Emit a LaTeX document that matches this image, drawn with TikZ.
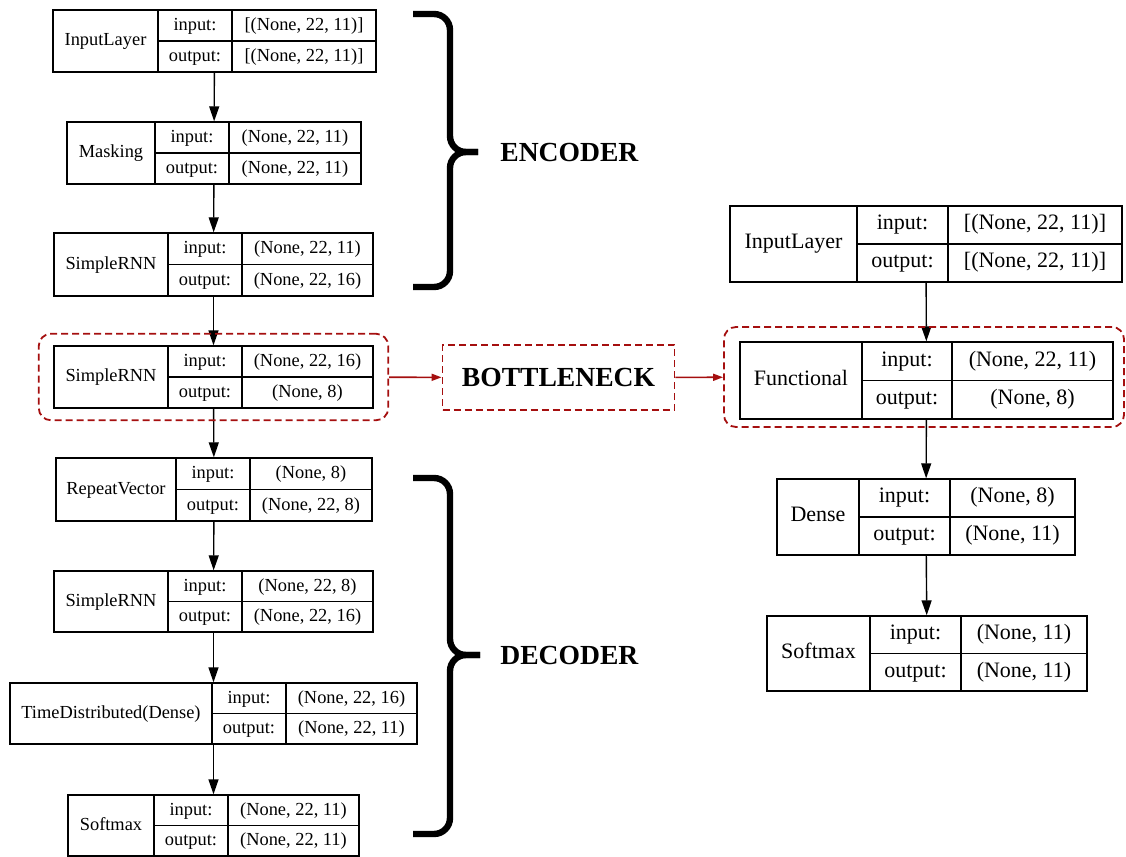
\documentclass[tikz,border=0pt]{standalone}
\usepackage{fontspec}
\setmainfont{Liberation Serif}
\usetikzlibrary{arrows.meta,fit}
\definecolor{darkred}{RGB}{165,15,15}

\begin{document}
\begin{tikzpicture}
      [
      x=0.5pt, y=-0.5pt,
      layer/.style={draw, line width=0.7pt, inner sep=0pt},
      small text/.style={font=\fontsize{9.2}{11}\selectfont, inner sep=0pt, text height=0.68em, text depth=0.2em},
      large text/.style={font=\fontsize{11}{13}\selectfont, inner sep=0pt, text height=0.68em, text depth=0.2em},
      flow/.style={-{Triangle[length=7.5pt,width=5pt]}, line width=0.7pt},
      redflow/.style={-{Triangle[length=5pt,width=3.5pt]}, line width=0.8pt, draw=darkred},
      group/.style={draw=darkred, dash pattern=on 3.5pt off 2pt, line width=0.9pt, inner sep=0pt},
      bracket/.style={line width=3.2pt, rounded corners=8pt},
      part/.style={font=\bfseries\fontsize{13.8}{16}\selectfont, inner sep=0pt}
      ]
      \useasboundingbox (0,0) rectangle (1126,857);
      % layers: name / left / divider / divider / right / top / bottom / title / input / output / text size
      \foreach \id/\xa/\xb/\xc/\xd/\ya/\yb/\lname/\vin/\vout/\fnt in {
        e1/53/158/232/376/10/72/InputLayer/{[(None, 22, 11)]}/{[(None, 22, 11)]}/small text,
        e2/67/155/229/361/122/184/Masking/{(None, 22, 11)}/{(None, 22, 11)}/small text,
        e3/54/168/242/373/233/296/SimpleRNN/{(None, 22, 11)}/{(None, 22, 16)}/small text,
        b1/54/168/242/373/346/408/SimpleRNN/{(None, 22, 16)}/{(None, 8)}/small text,
        d1/56/176/250/372/458/521/RepeatVector/{(None, 8)}/{(None, 22, 8)}/small text,
        d2/54/168/242/373/571/632/SimpleRNN/{(None, 22, 8)}/{(None, 22, 16)}/small text,
        d3/10/212/286/417/683/744/TimeDistributed(Dense)/{(None, 22, 16)}/{(None, 22, 11)}/small text,
        d4/68/154/228/359/795/856/Softmax/{(None, 22, 11)}/{(None, 22, 11)}/small text,
        r1/730/857/948/1122/206/282/InputLayer/{[(None, 22, 11)]}/{[(None, 22, 11)]}/large text,
        r2/740/862/952/1113/342/419/Functional/{(None, 22, 11)}/{(None, 8)}/large text,
        r3/777/859/950/1075/479/555/Dense/{(None, 8)}/{(None, 11)}/large text,
        r4/767/870/961/1087/616/691/Softmax/{(None, 11)}/{(None, 11)}/large text}
      {
        \pgfmathsetmacro\ym{(\ya+\yb)/2}
        \node[layer, fit={(\xa,\ya) (\xd,\yb)}] (\id) {};
        \draw[line width=0.7pt] (\xb,\ya) -- (\xb,\yb) (\xc,\ya) -- (\xc,\yb) (\xb,\ym) -- (\xd,\ym);
        \node[\fnt] (\id-name) at ({(\xa+\xb)/2},\ym) {\lname};
        \node[\fnt] (\id-il) at ({(\xb+\xc)/2},{(\ya+\ym)/2}) {input:};
        \node[\fnt] (\id-ol) at ({(\xb+\xc)/2},{(\ym+\yb)/2}) {output:};
        \node[\fnt] (\id-iv) at ({(\xc+\xd)/2},{(\ya+\ym)/2}) {\vin};
        \node[\fnt] (\id-ov) at ({(\xc+\xd)/2},{(\ym+\yb)/2}) {\vout};
      }
      \foreach \a/\b in {e1/e2, e2/e3, e3/b1, b1/d1, d1/d2, d2/d3, d3/d4, r1/r2, r2/r3, r3/r4}
        \draw[flow] (\a) -- (\b);
      % bottleneck
      \node[group, rounded corners=6pt, inner xsep=7.25pt, inner ysep=5.75pt, fit=(b1)] (b1-group) {};
      \node[group, rounded corners=6pt, fit={(724,327) (1124,427)}] (r2-group) {};
      \node[group, part, minimum width=116pt, minimum height=32.5pt] (neck) at (558.5,377.5) {BOTTLENECK};
      \draw[redflow] (b1-group) -- (neck);
      \draw[redflow] (neck) -- (r2-group);
      % braces
      \draw[bracket] (413,14) -| (450,152) -- (478,152);
      \draw[bracket] (478,152) -- (450,152) |- (413,287);
      \draw[bracket] (413,478) -| (450,655) -- (480,655);
      \draw[bracket] (480,655) -- (450,655) |- (413,834);
      \node[part, anchor=west] (encoder) at (500,152) {ENCODER};
      \node[part, anchor=west] (decoder) at (500,655) {DECODER};
    \end{tikzpicture}
\end{document}
